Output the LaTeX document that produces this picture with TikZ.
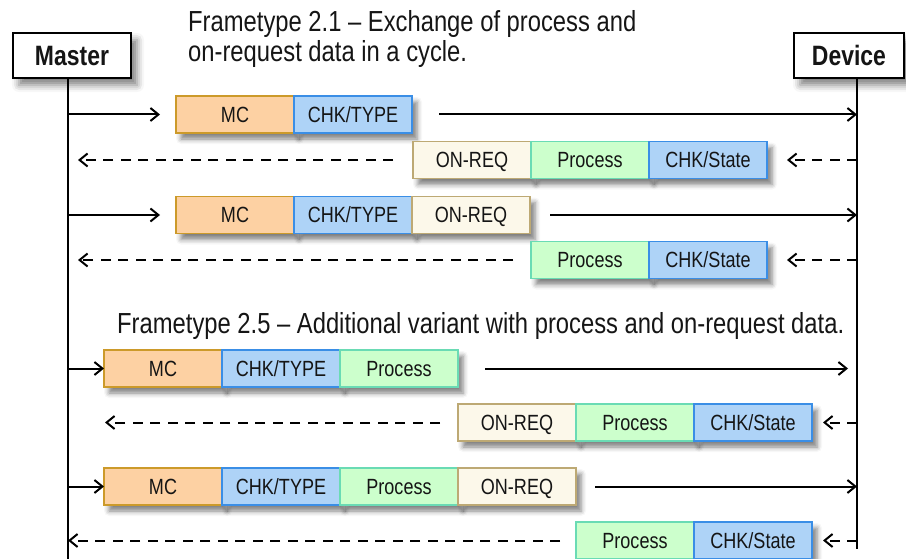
\documentclass[tikz,border=0pt]{standalone}
\usepackage{fontspec}
\setmainfont{Liberation Sans}[FakeStretch=0.82]
\usetikzlibrary{arrows.meta,shadows.blur}

\definecolor{mcfill}{HTML}{FDD1A3}
\definecolor{mcline}{HTML}{CC9A2A}
\definecolor{chkfill}{HTML}{AED3F7}
\definecolor{chkline}{HTML}{3A8EE6}
\definecolor{prfill}{HTML}{CCFFCC}
\definecolor{prline}{HTML}{6ADBB4}
\definecolor{rqfill}{HTML}{FCF8EA}
\definecolor{rqline}{HTML}{BDA974}
\definecolor{ink}{HTML}{151515}

\begin{document}
\begin{tikzpicture}[x=1pt,y=-1pt,
  seg/.style={draw, line width=1.2pt, minimum width=118pt, minimum height=37pt,
    inner sep=0pt, outer sep=0pt, anchor=west, text=ink,
    text height=15.8pt, text depth=0pt,
    font=\fontsize{22}{24}\selectfont,
    blur shadow={shadow xshift=5pt, shadow yshift=-6pt, shadow blur radius=5pt, shadow opacity=50}},
  mcbox/.style={seg, fill=mcfill, draw=mcline},
  chkbox/.style={seg, fill=chkfill, draw=chkline},
  prbox/.style={seg, fill=prfill, draw=prline},
  rqbox/.style={seg, fill=rqfill, draw=rqline},
  actor/.style={draw, line width=1.2pt, fill=white, inner sep=0pt, outer sep=0pt,
    minimum height=45pt, text=ink, text height=20pt, text depth=0pt,
    font=\bfseries\fontsize{28}{30}\selectfont,
    blur shadow={shadow xshift=6pt, shadow yshift=-7pt, shadow blur radius=7pt, shadow opacity=50}},
  title/.style={anchor=base west, inner sep=0pt, text=ink, font=\fontsize{29}{32}\selectfont},
  lifeline/.style={line width=1.8pt},
  msg/.style={line width=2pt, -{Straight Barb[length=8pt,width=13pt]}},
  reply/.style={msg, dash pattern=on 10pt off 7.5pt}]
\useasboundingbox (0,0) rectangle (906,559);

% participants and lifelines
\node[actor, minimum width=118pt] (master) at (72,55.5) {Master};
\node[actor, minimum width=110pt] (device) at (849,55.5) {Device};
\coordinate (mend) at (68,559);
\coordinate (dend) at (857,549);
\draw[lifeline] (master.south -| mend) -- (mend);
\draw[lifeline] (device.south -| dend) -- (dend);

% Frametype 2.1
\node[title] (t1a) at (188,32) {Frametype 2.1 – Exchange of process and};
\node[title] (t1b) at (188,62) {on-request data in a cycle.};

% cycle 1: request
\coordinate (m1) at (68,114.5);
\coordinate (d1) at (857,114.5);
\node[mcbox] (r1a) at (176,114.5) {MC};
\node[chkbox] (r1b) at (r1a.east) {CHK/TYPE};
\draw[msg, shorten >=16pt] (m1) -- (r1a.west);
\draw[msg, shorten <=27pt] (r1b.east) -- (d1);

% cycle 1: reply
\coordinate (m2) at (68,160);
\coordinate (d2) at (857,160);
\node[rqbox] (r2a) at (413,160) {ON-REQ};
\node[prbox] (r2b) at (r2a.east) {Process};
\node[chkbox] (r2c) at (r2b.east) {CHK/State};
\draw[reply, shorten <=20pt, shorten >=10pt] (r2a.west) -- (m2);
\draw[reply, shorten >=20pt] (d2) -- (r2c.east);

% cycle 2: request
\coordinate (m3) at (68,215);
\coordinate (d3) at (857,215);
\node[mcbox] (r3a) at (176,215) {MC};
\node[chkbox] (r3b) at (r3a.east) {CHK/TYPE};
\node[rqbox] (r3c) at (r3b.east) {ON-REQ};
\draw[msg, shorten >=16pt] (m3) -- (r3a.west);
\draw[msg, shorten <=20pt] (r3c.east) -- (d3);

% cycle 2: reply
\coordinate (m4) at (68,260);
\coordinate (d4) at (857,260);
\node[prbox] (r4a) at (531,260) {Process};
\node[chkbox] (r4b) at (r4a.east) {CHK/State};
\draw[reply, shorten <=18pt, shorten >=10pt] (r4a.west) -- (m4);
\draw[reply, shorten >=20pt] (d4) -- (r4b.east);

% Frametype 2.5
\node[title] (t2) at (117,333) {Frametype 2.5 – Additional variant with process and on-request data.};

% cycle 3: request
\coordinate (m5) at (68,368.5);
\coordinate (d5) at (857,368.5);
\node[mcbox] (r5a) at (104,368.5) {MC};
\node[chkbox] (r5b) at (r5a.east) {CHK/TYPE};
\node[prbox] (r5c) at (r5b.east) {Process};
\draw[msg] (m5) -- (r5a.west);
\draw[msg, shorten <=27pt, shorten >=9pt] (r5c.east) -- (d5);

% cycle 3: reply
\coordinate (m6) at (68,422.5);
\coordinate (d6) at (857,422.5);
\node[rqbox] (r6a) at (458,422.5) {ON-REQ};
\node[prbox] (r6b) at (r6a.east) {Process};
\node[chkbox] (r6c) at (r6b.east) {CHK/State};
\draw[reply, shorten <=18pt, shorten >=37pt] (r6a.west) -- (m6);
\draw[reply, shorten >=11pt] (d6) -- (r6c.east);

% cycle 4: request
\coordinate (m7) at (68,486.5);
\coordinate (d7) at (857,486.5);
\node[mcbox] (r7a) at (104,486.5) {MC};
\node[chkbox] (r7b) at (r7a.east) {CHK/TYPE};
\node[prbox] (r7c) at (r7b.east) {Process};
\node[rqbox] (r7d) at (r7c.east) {ON-REQ};
\draw[msg] (m7) -- (r7a.west);
\draw[msg, shorten <=19pt] (r7d.east) -- (d7);

% cycle 4: reply
\coordinate (m8) at (68,540.5);
\coordinate (d8) at (857,540.5);
\node[prbox] (r8a) at (576,540.5) {Process};
\node[chkbox] (r8b) at (r8a.east) {CHK/State};
\draw[reply, shorten <=16pt] (r8a.west) -- (m8);
\draw[reply, shorten >=11pt] (d8) -- (r8b.east);
\end{tikzpicture}
\end{document}
